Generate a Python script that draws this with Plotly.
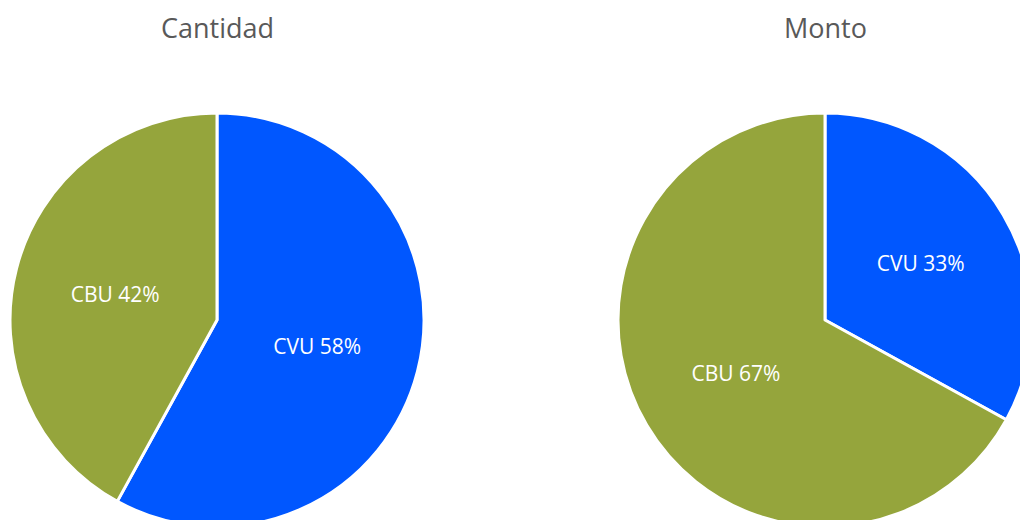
import plotly.graph_objects as go

categories = ["CVU", "CBU"]
cantidad_pct = [58, 42]
monto_pct = [33, 67]
titles = ["Cantidad", "Monto"]
colors = ["#0057FF", "#95A53C"]

W, H = 1040, 540
FONT = "'Open Sans', Lato, sans-serif"

def dom_x(cx, r):
    return [(cx - r) / W, (cx + r) / W]

def dom_y(cy, r):
    return [(H - (cy + r)) / H, (H - (cy - r)) / H]

R = 207
CY = 320
centers = [217, 825]

fig = go.Figure()
for vals, cx in zip([cantidad_pct, monto_pct], centers):
    fig.add_trace(go.Pie(
        labels=categories,
        values=vals,
        sort=False,
        direction="clockwise",
        rotation=0,
        marker=dict(colors=colors, line=dict(color="white", width=3)),
        texttemplate="%{label} %{value}%",
        textposition="inside",
        insidetextorientation="horizontal",
        textfont=dict(family=FONT, size=21, color="white"),
        hoverinfo="label+percent",
        showlegend=False,
        domain=dict(x=dom_x(cx, R), y=dom_y(CY, R)),
    ))

for t, cx in zip(titles, centers):
    fig.add_annotation(
        text=t, x=cx / W, y=(H - 27) / H, xref="paper", yref="paper",
        showarrow=False, xanchor="center", yanchor="middle",
        font=dict(family=FONT, size=27, color="#595959"),
    )

fig.update_layout(
    width=W, height=H,
    margin=dict(l=0, r=0, t=0, b=0),
    paper_bgcolor="white", plot_bgcolor="white",
)

fig.write_html(
    "out.html",
    config={"displayModeBar": False},
    post_script="document.body.style.margin='0';document.body.style.overflow='hidden';document.documentElement.style.overflow='hidden';",
)
